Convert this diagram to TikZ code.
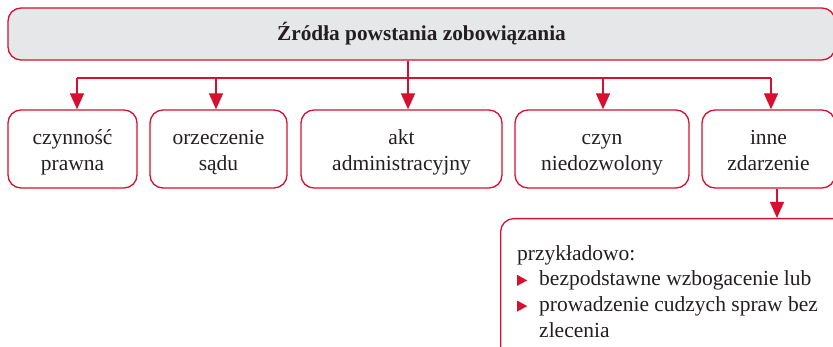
\documentclass[tikz,border=0pt]{standalone}
\usepackage{fontspec}
\setmainfont{Liberation Serif}
\usetikzlibrary{arrows.meta}
\definecolor{czerw}{RGB}{214,16,46}
\definecolor{szary}{RGB}{230,231,232}
\definecolor{tekst}{RGB}{35,31,32}
\newcommand{\trojkat}{\tikz[baseline=0pt]\fill[czerw] (0,0pt)--(0,11pt)--(10pt,5.5pt)--cycle;}
\newcommand{\gora}{\rule{0pt}{21pt}}
\newcommand{\dol}{\rule[-3pt]{0pt}{3pt}}
\tikzset{
  box/.style={draw=czerw, line width=1.3pt, rounded corners=13pt, inner sep=0pt,
    align=center, text=tekst, font=\fontsize{21.5}{26}\selectfont},
  conn/.style={draw=czerw, line width=1.3pt},
  arr/.style={conn, -{Triangle[length=16pt,width=14pt]}},
}
\begin{document}
\begin{tikzpicture}[x=1pt,y=-1pt]
\useasboundingbox (0,0) rectangle (833,347);
\clip (0,0) rectangle (833,347);
% top box
\node[box, fill=szary, minimum width=827pt, minimum height=52pt,
  font=\fontsize{21.3}{26}\selectfont\bfseries] (top) at (421.5,34)
  {Źródła powstania zobowiązania};
% second row
\node[box, minimum width=129pt, minimum height=78pt] (b1) at (72.5,149) {\gora czynność\\prawna\dol};
\node[box, minimum width=137pt, minimum height=78pt] (b2) at (218.5,149) {\gora orzeczenie\\sądu\dol};
\node[box, minimum width=201pt, minimum height=78pt] (b3) at (401.5,149) {\gora akt\\administracyjny\dol};
\node[box, minimum width=174pt, minimum height=78pt] (b4) at (602,149) {\gora czyn\\niedozwolony\dol};
\node[box, minimum width=133pt, minimum height=78pt] (b5) at (768.5,149) {\gora inne\\zdarzenie\dol};
% bottom box
\node[box, minimum width=360pt, minimum height=150pt, anchor=north west] (b6) at (500,218) {};
\node[anchor=north west, inner sep=0pt, text=tekst, align=left,
  font=\fontsize{21.5}{25.7}\selectfont] (t6) at (517,244)
  {\rule{0pt}{16pt}przykładowo:\\
   \makebox[22pt][l]{\trojkat}bezpodstawne wzbogacenie lub\\
   \makebox[22pt][l]{\trojkat}prowadzenie cudzych spraw bez\\
   \hspace*{22pt}zlecenia};
% connectors
\coordinate (bus) at (408,78);
\coordinate (a1) at (77,78);
\coordinate (a2) at (216,78);
\coordinate (a4) at (603,78);
\coordinate (a5) at (771,78);
\coordinate (a6) at (777,0);
\draw[conn] (a1) -- (a5);
\draw[conn] (top.south -| bus) -- (bus);
\draw[arr] (a1) -- (b1.north -| a1);
\draw[arr] (a2) -- (b2.north -| a2);
\draw[arr] (bus) -- (b3.north -| bus);
\draw[arr] (a4) -- (b4.north -| a4);
\draw[arr] (a5) -- (b5.north -| a5);
\draw[arr] (b5.south -| a6) -- (b6.north -| a6);
\end{tikzpicture}
\end{document}
